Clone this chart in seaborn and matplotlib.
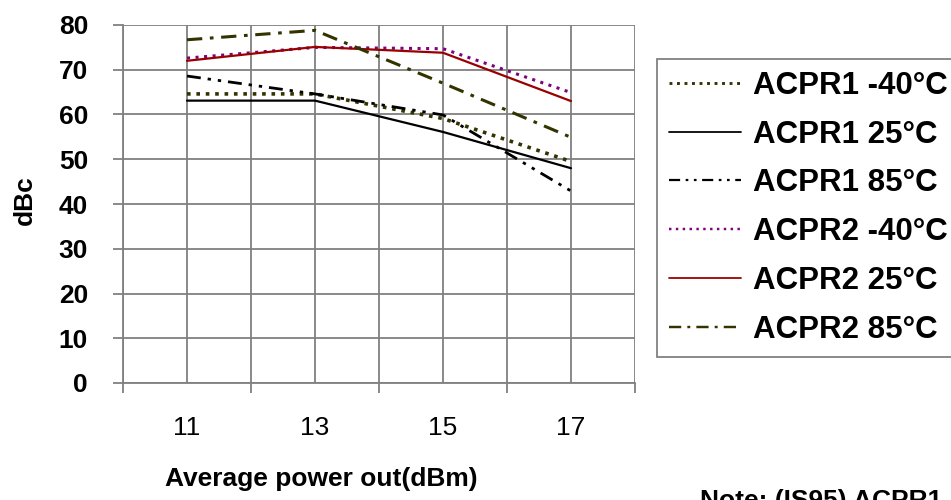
import matplotlib
matplotlib.use("Agg")
import matplotlib.pyplot as plt
import seaborn as sns
import numpy as np
import pandas as pd
from matplotlib.lines import Line2D

power = [11, 13, 15, 17]
acpr1_m40 = [64.6, 64.6, 59.1, 49.5]
acpr1_25 = [63.1, 63.1, 56.1, 48.0]
acpr1_85 = [68.6, 64.6, 59.9, 42.9]
acpr2_m40 = [72.6, 75.0, 74.7, 64.9]
acpr2_25 = [72.0, 75.1, 73.8, 63.0]
acpr2_85 = [76.7, 78.8, 67.0, 54.9]
series_names = ["ACPR1 -40°C", "ACPR1 25°C", "ACPR1 85°C",
                "ACPR2 -40°C", "ACPR2 25°C", "ACPR2 85°C"]
y_ticks = [0, 10, 20, 30, 40, 50, 60, 70, 80]
x_labels = ["11", "13", "15", "17"]

sns.set_theme(style="white")
plt.rcParams["font.family"] = ["Liberation Sans", "DejaVu Sans"]
plt.rcParams["text.color"] = "black"
plt.rcParams["axes.labelcolor"] = "black"
plt.rcParams["xtick.labelcolor"] = "black"
plt.rcParams["ytick.labelcolor"] = "black"

olive = "#333300"
styles = {
    "ACPR1 -40°C": dict(color=olive, linestyle=(0, (1.0, 1.6)), lw=2.6),
    "ACPR1 25°C": dict(color="black", linestyle="-", lw=1.6),
    "ACPR1 85°C": dict(color="black", linestyle=(0, (5, 2.5, 1.2, 2.5, 1.2, 2.5)), lw=2.0),
    "ACPR2 -40°C": dict(color="#800080", linestyle=(0, (1.0, 1.8)), lw=2.2),
    "ACPR2 25°C": dict(color="#990000", linestyle="-", lw=1.6),
    "ACPR2 85°C": dict(color=olive, linestyle=(0, (5, 2.5, 1.2, 2.5)), lw=2.2),
}
values = [acpr1_m40, acpr1_25, acpr1_85, acpr2_m40, acpr2_25, acpr2_85]

fig = plt.figure(figsize=(9.51, 5.0), dpi=100)
ax = fig.add_axes([123/951, 1-383/500, (635-123)/951, (383-25)/500])

for name, vals in zip(series_names, values):
    st = styles[name]
    df = pd.DataFrame({"x": power, "y": vals})
    sns.lineplot(data=df, x="x", y="y", ax=ax, color=st["color"],
                 linestyle=st["linestyle"], linewidth=st["lw"], legend=False,
                 zorder=3)

ax.set_xlim(10, 18)
ax.set_ylim(0, 80)
ax.set_xticks([10, 12, 14, 16, 18])
ax.set_xticklabels([])
ax.set_xticks(power, minor=True)
ax.set_xticklabels(x_labels, minor=True, fontsize=19, color="black")
ax.set_yticks(y_ticks)
ax.set_yticklabels([str(v) for v in y_ticks], fontsize=19, fontweight="bold", color="black")

gcol = "#808080"
ax.grid(True, which="both", axis="x", color=gcol, lw=1.3, zorder=0)
ax.grid(True, which="major", axis="y", color=gcol, lw=1.3, zorder=0)
ax.tick_params(axis="y", which="major", direction="out", length=7.2, width=1.3,
               color=gcol, pad=18, left=True)
ax.tick_params(axis="x", which="major", direction="out", length=7.2, width=1.3,
               color=gcol, bottom=True)
ax.tick_params(axis="x", which="minor", length=0, pad=24, labelcolor="black")
for side in ["top", "right"]:
    ax.spines[side].set_visible(False)
for side in ["left", "bottom"]:
    ax.spines[side].set_color(gcol)
    ax.spines[side].set_linewidth(1.3)

ax.set_xlabel("Average power out(dBm)", fontsize=19, fontweight="bold", color="black")
ax.set_ylabel("dBc", fontsize=19, fontweight="bold", color="black")
ax.xaxis.set_label_coords((321 - 123) / (635 - 123), -(467 - 383) / (383 - 25))
ax.yaxis.set_label_coords(-(123 - 37) / (635 - 123), (383 - 200) / (383 - 25))

handles = [Line2D([0], [0], color=styles[n]["color"], linestyle=styles[n]["linestyle"],
                  lw=styles[n]["lw"] * 0.8) for n in series_names]
leg = fig.legend(handles, series_names, loc="upper left",
                 bbox_to_anchor=(657/951, 1-59/500), frameon=True, fancybox=False,
                 prop={"family": ["Liberation Sans", "DejaVu Sans"], "weight": "bold", "size": 22.5},
                 handlelength=2.3, handletextpad=0.38, labelspacing=0.6,
                 borderpad=0.38, borderaxespad=0, labelcolor="black")
leg.get_frame().set_edgecolor("#555555")
leg.get_frame().set_linewidth(1.2)

fig.text(700/951, 1-489/500, "Note: (IS95) ACPR1 ...", fontsize=19, fontweight="bold",
         va="top", ha="left", color="black")

fig.savefig("out.png", dpi=100)
